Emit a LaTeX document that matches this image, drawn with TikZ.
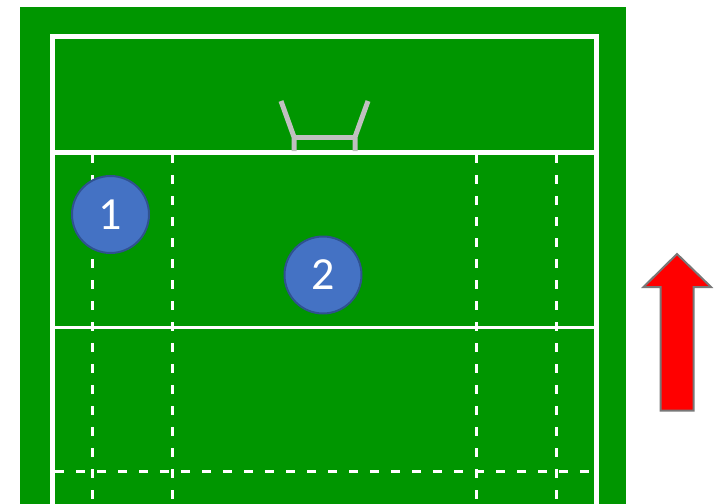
\documentclass[tikz,border=0pt]{standalone}
\usepackage{fontspec}
\setmainfont{Carlito}
\usetikzlibrary{positioning}
\definecolor{pitch}{RGB}{0,150,0}
\definecolor{postgrey}{RGB}{192,192,192}
\definecolor{playerblue}{RGB}{68,114,196}
\definecolor{playeredge}{RGB}{47,82,143}
\definecolor{arrowedge}{RGB}{120,120,120}

\begin{document}
\begin{tikzpicture}[x=0.5pt,y=-0.5pt,
  line/.style={white,line width=2.5pt},
  halfway/.style={white,line width=1.5pt},
  dashline/.style={white,line width=1.5pt,dash pattern=on 4.5pt off 6pt},
  goalpost/.style={postgrey,line width=2.5pt,line join=miter},
  player/.style={circle,draw=playeredge,line width=1pt,fill=playerblue,
                 text=white,inner sep=0pt,minimum size=38.5pt,
                 font=\fontsize{23}{23}\selectfont}]
\useasboundingbox (0,0) rectangle (719,504);
% pitch
\fill[pitch] (20,7) rectangle (626,504);
\draw[line] (52.5,504) -- (52.5,36.5) -- (596,36.5) -- (596,504);
\draw[line] (52.5,152) -- (596,152);
\draw[halfway] (52.5,327) -- (596,327);
% dashed lines
\foreach \xx in {92,172,476,556}
  \draw[dashline] (\xx,154) -- (\xx,504);
\draw[dashline] (55,471.5) -- (593,471.5);
% goal posts
\draw[goalpost] (281,101) -- (294,137) -- (294,151);
\draw[goalpost] (368,101) -- (355,137) -- (355,151);
\draw[goalpost] (294,137) -- (355,137);
% players
\node[player] (p1) at (110.5,214.5) {1};
\node[player] (p2) at (323,275) {2};
% direction of play
\draw[fill=red,draw=arrowedge,line width=1pt]
  (677,254) -- (711,287) -- (693.5,287) -- (693.5,410.5)
  -- (660.5,410.5) -- (660.5,287) -- (643.5,287) -- cycle;
\end{tikzpicture}
\end{document}
